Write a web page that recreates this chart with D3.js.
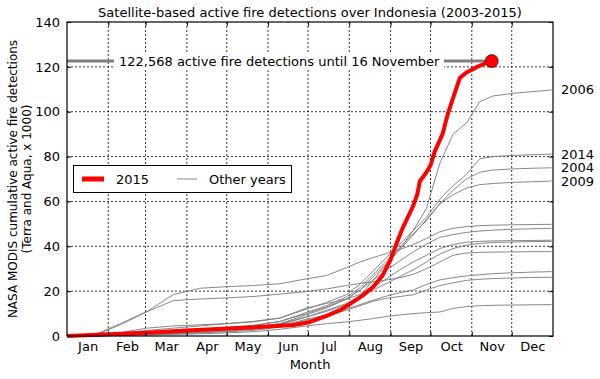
<!DOCTYPE html>
<html>
<head>
<meta charset="utf-8">
<title>Indonesia fire detections</title>
<script src="https://d3js.org/d3.v7.min.js"></script>
<style>
  body { margin: 0; background: #fff; font-family: "DejaVu Sans", sans-serif; }
  #chart text { font-family: "DejaVu Sans", sans-serif; fill: #000; }
</style>
</head>
<body>
<div id="chart"></div>
<script>
// ---- data (values in thousands of cumulative detections) ----
const dayGrid = [0, 20, 40, 60, 80, 100, 120, 140, 160, 180, 195, 210, 220, 230, 240, 250, 260, 270, 280, 290, 300, 310, 320, 335, 350, 364]

const fires2003 = [0, 0.3, 1.5, 3.5, 4.5, 5, 5.5, 6.3, 8, 12.5, 14.5, 16.5, 18.5, 20.5, 23.5, 26.5, 29.5, 33, 36.5, 39, 40.5, 41.3, 41.7, 41.9, 42.1, 42.2]
const fires2004 = [0, 0.2, 0.8, 1.5, 2.3, 3, 3.8, 4.8, 6.5, 10.5, 13.5, 17.5, 21.5, 27.5, 33.5, 39.5, 45.5, 51.5, 59, 65, 70, 73, 74, 74.5, 74.8, 75]
const fires2005 = [0, 0.3, 5.5, 10.9, 18.5, 21.3, 22, 22.5, 23.3, 25.5, 27, 30.5, 33, 35, 36.8, 38.5, 40.8, 43.5, 46.5, 48, 48.8, 49.2, 49.4, 49.6, 49.7, 49.8]
const fires2006 = [0, 0.1, 0.5, 1, 1.6, 2.2, 3, 4, 5.5, 8.5, 11, 14, 18, 25, 32, 39, 47, 57, 77, 90, 95, 104.5, 107, 108.2, 109, 109.7]
const fires2007 = [0, 0.1, 0.3, 0.7, 1.1, 1.6, 2.2, 2.9, 4.5, 7.5, 9.5, 12, 14, 16, 17.8, 19.3, 20.5, 23, 25, 26, 26.8, 27.3, 27.8, 28.2, 28.5, 28.7]
const fires2008 = [0, 0.1, 0.3, 0.6, 1, 1.4, 1.9, 2.5, 4, 7, 9, 11.5, 13.5, 15.5, 16.8, 17.6, 18.4, 20.5, 22.5, 23.7, 24.8, 25.3, 25.6, 25.9, 26.1, 26.2]
const fires2009 = [0, 0.2, 0.7, 1.3, 2, 2.7, 3.5, 4.5, 6.5, 10, 13, 16.5, 20.5, 26.5, 32.5, 38.5, 45, 52, 59, 63, 66, 67.5, 68, 68.5, 68.8, 69.1]
const fires2010 = [0, 0.1, 0.2, 0.4, 0.7, 1, 1.4, 1.9, 3, 4.5, 5.5, 6.3, 7, 7.8, 8.7, 9.4, 10, 10.4, 10.7, 12.3, 13.1, 13.5, 13.7, 13.8, 13.9, 14]
const fires2011 = [0, 0.1, 0.5, 1, 1.6, 2.3, 3, 3.8, 5.5, 9.5, 12.5, 16.5, 20.5, 25, 29.5, 33.5, 37.5, 41, 44, 45.2, 46.2, 46.8, 47.2, 47.6, 47.8, 48]
const fires2012 = [0, 0.1, 0.4, 0.8, 1.3, 1.9, 2.6, 3.4, 5, 8.5, 11.5, 14.5, 17.5, 21.5, 25.5, 29.5, 33, 36, 39, 40.8, 41.8, 42.2, 42.4, 42.5, 42.6, 42.7]
const fires2013 = [0, 0.1, 5, 10.8, 15.8, 16.5, 17, 17.6, 18.7, 19.8, 21, 22.5, 23.5, 24.2, 25, 26, 27.5, 30, 33, 36, 37, 37.3, 37.4, 37.5, 37.6, 37.6]
const fires2014 = [0, 0.3, 1.2, 2.5, 3.5, 4.5, 5.5, 6.5, 8, 12, 15, 18.5, 23, 29, 35, 41, 47, 53, 61, 67, 72, 79, 80, 80.5, 80.8, 81.1]

const days2015 = [0, 31, 59, 90, 120, 151, 170, 181, 195, 205, 213, 222, 230, 237, 243, 248, 252, 256, 260, 263, 265, 270, 273, 276, 282, 286, 291, 295, 300, 308, 314, 319]
const fires2015 = [0, 0.8, 1.5, 2.5, 3.3, 4.2, 4.9, 6, 9, 11.5, 14.5, 18, 22, 27, 34, 42, 48, 53, 58, 63, 69, 73, 76, 82, 90, 99, 108, 115, 117.5, 120, 121.5, 122.568]

const labelledYears = [2006, 2014, 2004, 2009]
const monthLabels = ["Jan", "Feb", "Mar", "Apr", "May", "Jun", "Jul", "Aug", "Sep", "Oct", "Nov", "Dec"]
const monthStarts = [0, 31, 59, 90, 120, 151, 181, 212, 243, 273, 304, 334, 365]
const yTicks = [0, 20, 40, 60, 80, 100, 120, 140]
const totalLabel = "122,568 active fire detections until 16 November"

const otherYears = [
    { year: 2003, values: fires2003 }, { year: 2004, values: fires2004 },
    { year: 2005, values: fires2005 }, { year: 2006, values: fires2006 },
    { year: 2007, values: fires2007 }, { year: 2008, values: fires2008 },
    { year: 2009, values: fires2009 }, { year: 2010, values: fires2010 },
    { year: 2011, values: fires2011 }, { year: 2012, values: fires2012 },
    { year: 2013, values: fires2013 }, { year: 2014, values: fires2014 }
]

// ---- layout ----
const w = 600, h = 379
const margin = { top: 22, right: 47, bottom: 43, left: 67 }
const fs = 13

const svg = d3.select("#chart").append("svg")
    .attr("width", w).attr("height", h)

const x = d3.scaleLinear().domain([0, 365]).range([margin.left, w - margin.right])
const y = d3.scaleLinear().domain([0, 140]).range([h - margin.bottom, margin.top])

const x0 = x.range()[0], x1 = x.range()[1]
const y0 = y.range()[0], y1 = y.range()[1]

// grid
const grid = svg.append("g")
grid.selectAll(".vg").data(monthStarts.slice(1, 12)).enter().append("line")
    .attr("x1", d => x(d)).attr("x2", d => x(d))
    .attr("y1", y0).attr("y2", y1)
    .attr("stroke", "#000").attr("stroke-width", 0.8).attr("stroke-dasharray", "2,2")
grid.selectAll(".hg").data(yTicks.slice(1, -1)).enter().append("line")
    .attr("x1", x0).attr("x2", x1)
    .attr("y1", d => y(d)).attr("y2", d => y(d))
    .attr("stroke", "#000").attr("stroke-width", 0.8).attr("stroke-dasharray", "2,2")

// other years
const line = d3.line().x(d => x(d[0])).y(d => y(d[1]))
svg.append("g").selectAll("path").data(otherYears).enter().append("path")
    .attr("d", d => line(dayGrid.map((t, i) => [t, d.values[i]])))
    .attr("fill", "none").attr("stroke", "#7a7a7a").attr("stroke-width", 0.9)

// annotation line + box
const total = fires2015[fires2015.length - 1]
const lastDay = days2015[days2015.length - 1]
svg.append("line")
    .attr("x1", x0).attr("x2", x(lastDay))
    .attr("y1", y(total)).attr("y2", y(total))
    .attr("stroke", "#808080").attr("stroke-width", 3)
svg.append("rect")
    .attr("x", 114).attr("y", y(total) - 9).attr("width", 330).attr("height", 18)
    .attr("fill", "#fff")
svg.append("text")
    .attr("x", 119).attr("y", y(total) + 5)
    .attr("font-size", fs).text(totalLabel)

// 2015
svg.append("path")
    .attr("d", line(days2015.map((t, i) => [t, fires2015[i]])))
    .attr("fill", "none").attr("stroke", "#ff0000").attr("stroke-width", 4)
    .attr("stroke-linejoin", "round")
svg.append("circle")
    .attr("cx", x(lastDay)).attr("cy", y(total)).attr("r", 6.5)
    .attr("fill", "#ff0000").attr("stroke", "#000").attr("stroke-width", 0.6)

// frame
svg.append("rect")
    .attr("x", x0).attr("y", y1).attr("width", x1 - x0).attr("height", y0 - y1)
    .attr("fill", "none").attr("stroke", "#000").attr("stroke-width", 1.2)

// axes (ticks inside)
svg.append("g").attr("transform", `translate(${x0},0)`)
    .call(d3.axisLeft(y).tickValues(yTicks).tickSizeInner(-4).tickSizeOuter(0).tickPadding(7))
svg.append("g").attr("transform", `translate(${x1},0)`)
    .call(d3.axisRight(y).tickValues(yTicks).tickSizeInner(-4).tickSizeOuter(0).tickFormat(""))
svg.append("g").attr("transform", `translate(0,${y0})`)
    .call(d3.axisBottom(x).tickValues(monthStarts.slice(1, 12)).tickSizeInner(-4).tickSizeOuter(0).tickFormat(""))
svg.append("g").attr("transform", `translate(0,${y1})`)
    .call(d3.axisTop(x).tickValues(monthStarts.slice(1, 12)).tickSizeInner(-4).tickSizeOuter(0).tickFormat(""))
const monthMids = monthStarts.slice(0, 12).map((s, i) => (s + monthStarts[i + 1]) / 2)
svg.append("g").attr("transform", `translate(0,${y0})`)
    .call(d3.axisBottom(x).tickValues(monthMids).tickSize(0).tickPadding(6)
        .tickFormat((d, i) => monthLabels[i]))
svg.selectAll(".domain").remove()
svg.selectAll(".tick line").attr("stroke", "#000")
svg.selectAll(".tick text").attr("font-size", fs).attr("font-family", "DejaVu Sans")

// year labels at the right, pushed apart so they don't collide
const yearLabels = labelledYears
    .map(yr => ({ year: yr, y: y(otherYears.find(o => o.year === yr).values[dayGrid.length - 1]) }))
    .sort((a, b) => a.y - b.y)
const gap = 13.5
for (let i = 1; i < yearLabels.length; i++) {
    const d = yearLabels[i].y - yearLabels[i - 1].y
    if (d < gap) {
        const shift = (gap - d) / 2
        yearLabels[i - 1].y -= shift
        yearLabels[i].y += shift
    }
}
svg.append("g").selectAll("text").data(yearLabels).enter().append("text")
    .attr("x", x1 + 8).attr("y", d => d.y + 4.5)
    .attr("font-size", fs).text(d => d.year)

// legend
const lg = svg.append("g")
lg.append("rect").attr("x", 73.5).attr("y", 165.5).attr("width", 218).attr("height", 27)
    .attr("fill", "#fff").attr("stroke", "#000").attr("stroke-width", 1)
lg.append("line").attr("x1", 82).attr("x2", 104).attr("y1", 179).attr("y2", 179)
    .attr("stroke", "#ff0000").attr("stroke-width", 5)
lg.append("text").attr("x", 116).attr("y", 183.5).attr("font-size", fs).text("2015")
lg.append("line").attr("x1", 177).attr("x2", 197).attr("y1", 179).attr("y2", 179)
    .attr("stroke", "#7a7a7a").attr("stroke-width", 0.9)
lg.append("text").attr("x", 209).attr("y", 183.5).attr("font-size", fs).text("Other years")

// titles
svg.append("text").attr("x", (x0 + x1) / 2).attr("y", 17).attr("text-anchor", "middle")
    .attr("font-size", fs).text("Satellite-based active fire detections over Indonesia (2003-2015)")
svg.append("text").attr("x", (x0 + x1) / 2).attr("y", 369).attr("text-anchor", "middle")
    .attr("font-size", fs).text("Month")
const yl = svg.append("text").attr("text-anchor", "middle")
    .attr("transform", `translate(17,${(y0 + y1) / 2}) rotate(-90)`).attr("font-size", 12)
yl.append("tspan").attr("x", 0).attr("dy", 0).text("NASA MODIS cumulative active fire detections")
yl.append("tspan").attr("x", 0).attr("dy", 14).text("(Terra and Aqua, x 1000)")
</script>
</body>
</html>
